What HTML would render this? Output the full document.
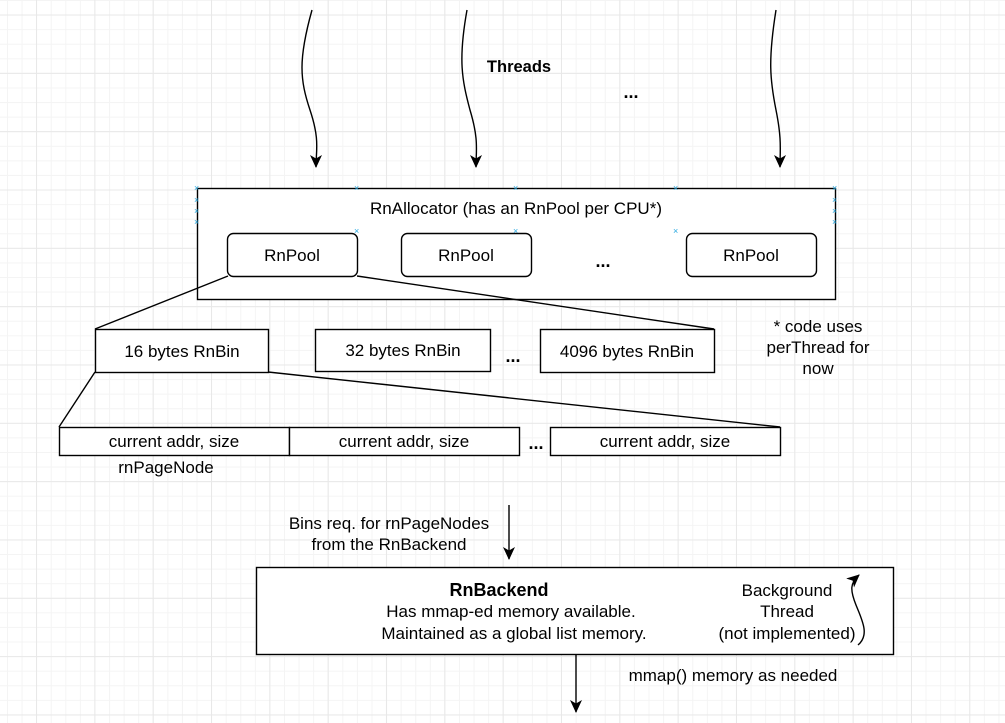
<!DOCTYPE html>
<html><head><meta charset="utf-8"><style>
html,body{margin:0;padding:0;background:#fff}
svg{display:block}
text{font-family:"Liberation Sans",Arial,sans-serif;font-size:17px;fill:#000}
text.x{fill:#29a8e0;font-size:9px}
</style></head><body>
<svg width="1005" height="723" viewBox="0 0 1005 723" xmlns="http://www.w3.org/2000/svg">
<defs>
<pattern id="minor" x="7" y="0" width="14.58" height="14.58" patternUnits="userSpaceOnUse">
<path d="M0.5 0V14.58M0 0.5H14.58" stroke="#f4f4f4" stroke-width="1" fill="none"/>
</pattern>
<pattern id="major" x="36" y="14.5" width="58.33" height="58.33" patternUnits="userSpaceOnUse">
<path d="M0.5 0V58.33M0 0.5H58.33" stroke="#e8e8e8" stroke-width="1" fill="none"/>
</pattern>
<marker id="ah" markerWidth="14" markerHeight="14" refX="12" refY="6" orient="auto" markerUnits="userSpaceOnUse">
<path d="M0 0L13 6L0 12L3.5 6Z" fill="#000"/>
</marker>
</defs>
<rect width="1005" height="723" fill="url(#minor)"/>
<rect width="1005" height="723" fill="url(#major)"/>

<g fill="none" stroke="#000" stroke-width="1.4">
<path d="M312 10 C298 60 300 80 310 110 C320 140 316 150 316 167" marker-end="url(#ah)"/>
<path d="M467 10 C458 60 462 80 470 110 C479 140 476 150 476 167" marker-end="url(#ah)"/>
<path d="M776 10 C768 60 770 80 776 110 C782 140 780 150 780 167" marker-end="url(#ah)"/>
</g>
<text x="519" y="72" text-anchor="middle" style="font-weight:bold;font-size:16.5px">Threads</text>
<text x="631" y="98" text-anchor="middle" style="font-weight:bold;font-size:18px">...</text>

<rect x="197.5" y="188.5" width="638" height="111" fill="#fff" stroke="#000" stroke-width="1.4"/>
<text x="516" y="214" text-anchor="middle">RnAllocator (has an RnPool per CPU*)</text>
<rect x="227.5" y="233.5" width="130" height="43" rx="6" fill="#fff" stroke="#000" stroke-width="1.4"/>
<rect x="401.5" y="233.5" width="130" height="43" rx="6" fill="#fff" stroke="#000" stroke-width="1.4"/>
<rect x="686.5" y="233.5" width="130" height="43" rx="6" fill="#fff" stroke="#000" stroke-width="1.4"/>
<text x="292" y="261" text-anchor="middle">RnPool</text>
<text x="466" y="261" text-anchor="middle">RnPool</text>
<text x="751" y="261" text-anchor="middle">RnPool</text>
<text x="603" y="267" text-anchor="middle" style="font-weight:bold;font-size:18px">...</text>
<g>
<text class="x" x="194" y="191">×</text><text class="x" x="354" y="191">×</text><text class="x" x="513" y="191">×</text><text class="x" x="673" y="191">×</text><text class="x" x="832" y="191">×</text>
<text class="x" x="194" y="203">×</text><text class="x" x="194" y="214">×</text><text class="x" x="194" y="225">×</text>
<text class="x" x="832" y="203">×</text><text class="x" x="832" y="214">×</text><text class="x" x="832" y="225">×</text>
<text class="x" x="354" y="234">×</text><text class="x" x="513" y="234">×</text><text class="x" x="673" y="234">×</text>
</g>

<g stroke="#000" stroke-width="1.4" fill="none">
<line x1="228" y1="276" x2="95" y2="329"/>
<line x1="357" y1="276" x2="714" y2="329"/>
<line x1="95" y1="372" x2="59" y2="427"/>
<line x1="268" y1="372" x2="780" y2="427"/>
</g>
<g fill="#fff" stroke="#000" stroke-width="1.4">
<rect x="95.5" y="329.5" width="173" height="43"/>
<rect x="315.5" y="329.5" width="175" height="42"/>
<rect x="540.5" y="329.5" width="174" height="43"/>
</g>
<text x="182" y="357" text-anchor="middle">16 bytes RnBin</text>
<text x="403" y="356" text-anchor="middle">32 bytes RnBin</text>
<text x="627" y="357" text-anchor="middle">4096 bytes RnBin</text>
<text x="513" y="362" text-anchor="middle" style="font-weight:bold;font-size:18px">...</text>
<text x="818" y="332" text-anchor="middle">* code uses</text>
<text x="818" y="353" text-anchor="middle">perThread for</text>
<text x="818" y="374" text-anchor="middle">now</text>

<g fill="#fff" stroke="#000" stroke-width="1.4">
<rect x="59.5" y="427.5" width="230" height="28"/>
<rect x="289.5" y="427.5" width="230" height="28"/>
<rect x="550.5" y="427.5" width="230" height="28"/>
</g>
<text x="174" y="447" text-anchor="middle">current addr, size</text>
<text x="404" y="447" text-anchor="middle">current addr, size</text>
<text x="665" y="447" text-anchor="middle">current addr, size</text>
<text x="536" y="449" text-anchor="middle" style="font-weight:bold;font-size:18px">...</text>
<text x="166" y="473" text-anchor="middle">rnPageNode</text>

<line x1="509" y1="505" x2="509" y2="559" stroke="#000" stroke-width="1.4" marker-end="url(#ah)"/>
<text x="389" y="529" text-anchor="middle">Bins req. for rnPageNodes</text>
<text x="389" y="550" text-anchor="middle">from the RnBackend</text>

<rect x="256.5" y="567.5" width="637" height="87" fill="#fff" stroke="#000" stroke-width="1.4"/>
<text x="499" y="596" text-anchor="middle" style="font-weight:bold;font-size:18px">RnBackend</text>
<text x="511" y="617" text-anchor="middle">Has mmap-ed memory available.</text>
<text x="514" y="639" text-anchor="middle">Maintained as a global list memory.</text>
<text x="787" y="596" text-anchor="middle">Background</text>
<text x="787" y="617" text-anchor="middle">Thread</text>
<text x="787" y="639" text-anchor="middle">(not implemented)</text>
<path d="M858 645 C870 635 862 620 856 605 C850 590 850 583 859 575" fill="none" stroke="#000" stroke-width="1.4" marker-end="url(#ah)"/>

<line x1="576" y1="655" x2="576" y2="712" stroke="#000" stroke-width="1.4" marker-end="url(#ah)"/>
<text x="733" y="681" text-anchor="middle">mmap() memory as needed</text>
</svg>
</body></html>
